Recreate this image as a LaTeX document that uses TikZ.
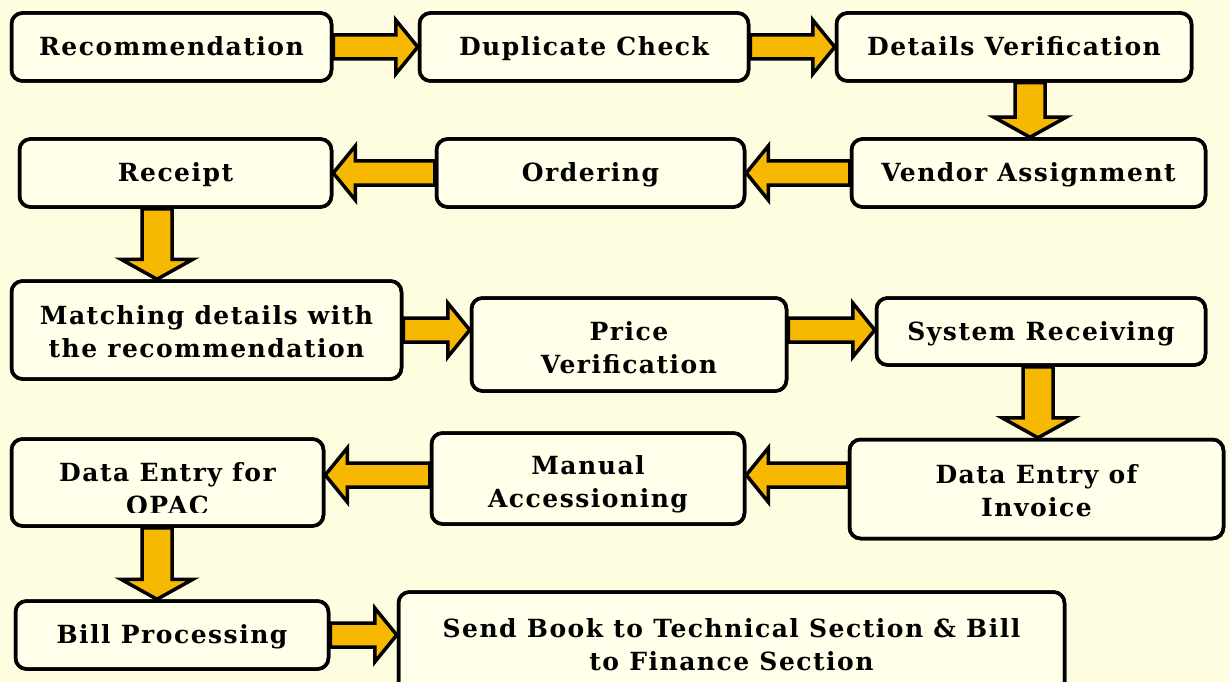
\documentclass[tikz,border=0pt]{standalone}
\usepackage{fontspec}
\setmainfont{DejaVu Serif}[LetterSpace=6]
\usetikzlibrary{calc}
\definecolor{bgyel}{HTML}{FFFDE0}
\definecolor{boxfill}{HTML}{FFFFEA}
\definecolor{arrfill}{HTML}{F6B800}
\tikzset{
  box/.style={draw=black, line width=3.5pt, rounded corners=11pt, fill=boxfill,
    align=center, font=\fontsize{25}{33}\selectfont\bfseries, inner sep=0pt,
    text height=18pt, text depth=1pt},
  txt/.style={align=center, font=\fontsize{25}{33}\selectfont\bfseries, inner sep=0pt},
  barrow/.style={draw=black, line width=3.5pt, fill=arrfill, line join=miter}
}
% horizontal block arrow: #1 start anchor, #2 end anchor, #3 y, #4 direction (1 right, -1 left)
\newcommand\hblock[4]{%
  \coordinate (hs) at (#1 |- 0,#3);
  \coordinate (he) at (#2 |- 0,#3);
  \draw[barrow] ([yshift=12pt]hs) -- ([xshift=-#4*22pt,yshift=12pt]he)
    -- ([xshift=-#4*22pt,yshift=27pt]he) -- (he)
    -- ([xshift=-#4*22pt,yshift=-27pt]he) -- ([xshift=-#4*22pt,yshift=-12pt]he)
    -- ([yshift=-12pt]hs) -- cycle;}
% vertical (downward) block arrow: #1 start anchor, #2 end anchor, #3 x
\newcommand\vblock[3]{%
  \coordinate (vs) at (#1 -| #3,0);
  \coordinate (ve) at (#2 -| #3,0);
  \draw[barrow] ([xshift=-15pt]vs) -- ([xshift=-15pt,yshift=20pt]ve)
    -- ([xshift=-36pt,yshift=20pt]ve) -- (ve)
    -- ([xshift=36pt,yshift=20pt]ve) -- ([xshift=15pt,yshift=20pt]ve)
    -- ([xshift=15pt]vs) -- cycle;}
\begin{document}
\begin{tikzpicture}[x=1pt,y=-1pt]
\clip (0,0) rectangle (1229,682);
\fill[bgyel] (0,0) rectangle (1229,682);
\path
 (171.5,47)  node[box, minimum width=320pt, minimum height=68pt] (n1) {Recommendation}
 (584,47)    node[box, minimum width=329pt, minimum height=68pt] (n2) {Duplicate Check}
 (1014,47)   node[box, minimum width=355pt, minimum height=68pt] (n3) {Details Verification}
 (1028.5,173) node[box, minimum width=354pt, minimum height=68pt] (n4) {Vendor Assignment}
 (590.5,173) node[box, minimum width=308pt, minimum height=68pt] (n5) {Ordering}
 (175.5,173) node[box, minimum width=312pt, minimum height=68pt] (n6) {Receipt}
 (206.5,330) node[box, minimum width=390pt, minimum height=98pt] (n7) {}
 (629,344.5) node[box, minimum width=315pt, minimum height=93pt] (n8) {}
 (1041,331.5) node[box, minimum width=329pt, minimum height=67pt] (n9) {System Receiving}
 (1036.5,489) node[box, minimum width=374pt, minimum height=99pt] (n10) {}
 (588,478.5) node[box, minimum width=313pt, minimum height=91pt] (n11) {}
 (167.5,482.5) node[box, minimum width=312pt, minimum height=87pt] (n12) {}
 (172,635)   node[box, minimum width=313pt, minimum height=68pt] (n13) {Bill Processing}
 (731.5,644) node[box, minimum width=666pt, minimum height=104pt] (n14) {};
% arrows
\hblock{n1.east}{n2.west}{47}{1}
\hblock{n2.east}{n3.west}{47}{1}
\vblock{n3.south}{n4.north}{1030}
\hblock{n4.west}{n5.east}{173}{-1}
\hblock{n5.west}{n6.east}{173}{-1}
\vblock{n6.south}{n7.north}{157}
\hblock{n7.east}{n8.west}{330}{1}
\hblock{n8.east}{n9.west}{330}{1}
\vblock{n9.south}{n10.north}{1038}
\hblock{n10.west}{n11.east}{475}{-1}
\hblock{n11.west}{n12.east}{475}{-1}
\vblock{n12.south}{n13.north}{157}
\hblock{n13.east}{n14.west}{635}{1}
% redraw box borders on top of arrow tails
\foreach \n in {n1,n2,n3,n4,n5,n6,n7,n8,n9,n10,n11,n12,n13,n14}{
  \draw[line width=3.5pt, rounded corners=11pt] (\n.south west) ++(1.75pt,1.75pt) rectangle ($(\n.north east)+(-1.75pt,-1.75pt)$);
}
% multi-line texts
\node[txt] (t7) at (206.5,332) {Matching details with\\the recommendation};
\node[txt] (t8) at (629,348) {Price\\Verification};
\node[txt] (t10) at (1036.5,491) {Data Entry of\\Invoice};
\begin{scope}
  \clip (430,432) rectangle (746,512);
  \node[txt] (t11) at (588,484) {Manual\\Accessioning};
\end{scope}
\begin{scope}
  \clip (10,438) rectangle (325,512);
  \node[txt] (t12) at (167.5,489) {Data Entry for\\OPAC};
\end{scope}
\node[txt] (t14) at (731.5,644.5) {Send Book to Technical Section \& Bill\\to Finance Section};
\end{tikzpicture}
\end{document}
